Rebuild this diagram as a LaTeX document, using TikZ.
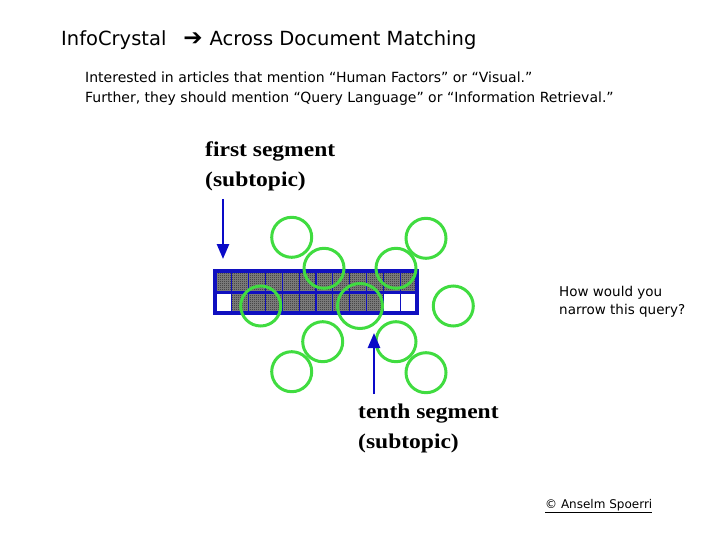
\documentclass[tikz,border=0pt]{standalone}
\usepackage{fontspec}
\usepackage{graphicx}
\setmainfont{DejaVu Sans}
\newfontfamily\segfont[FakeStretch=1.12]{Liberation Serif}
\usetikzlibrary{arrows.meta,positioning,patterns}
\definecolor{GridBlue}{HTML}{1010C0}
\definecolor{ArrowBlue}{HTML}{0A0AC8}
\definecolor{RingGreen}{HTML}{40DC40}

% fine black/white checker for the filled cells
\pgfdeclarepatternformonly{finecheck}{\pgfqpoint{0pt}{0pt}}{\pgfqpoint{2pt}{2pt}}{\pgfqpoint{2pt}{2pt}}{%
  \pgfpathrectangle{\pgfqpoint{0pt}{0pt}}{\pgfqpoint{1pt}{1pt}}%
  \pgfpathrectangle{\pgfqpoint{1pt}{1pt}}{\pgfqpoint{1pt}{1pt}}%
  \pgfusepath{fill}}

\begin{document}
\begin{tikzpicture}[
      x=1pt,y=-1pt,
      txt/.style={anchor=base west,inner sep=0pt},
      seglabel/.style={txt,font=\segfont\bfseries\fontsize{21}{30}\selectfont},
      ring/.style={circle,draw=RingGreen,line width=3pt,minimum size=40pt,inner sep=0pt},
      cellfill/.style={fill=black!48,postaction={pattern=finecheck,pattern color=black!85}},
      gridline/.style={GridBlue,line width=1.3pt},
      segarrow/.style={-{Triangle[length=15pt,width=12pt]},line width=2.6pt,ArrowBlue},
    ]
    \useasboundingbox (0,0) rectangle (720,540);

    \node[txt,font=\fontsize{19.5}{23}\selectfont] (title) at (61,46)
      {InfoCrystal\hspace{17pt}\scalebox{1.18}{\bfseries ➔}\hspace{7pt}Across Document Matching};
    \node[txt,font=\fontsize{14}{19}\selectfont] (query1) at (85,83)
      {Interested in articles that mention “Human Factors” or “Visual.”};
    \node[txt,font=\fontsize{14}{19}\selectfont] (query2) at (85,102.5)
      {Further, they should mention “Query Language” or “Information Retrieval.”};

    \node[seglabel] (firstseg) at (205,157) {first segment};
    \node[seglabel] (firstsub) at (205,187) {(subtopic)};
    \node[seglabel] (tenthseg) at (358,418) {tenth segment};
    \node[seglabel] (tenthsub) at (358,448) {(subtopic)};

    % segment bar: 12 columns, two rows
    \fill[cellfill] (215,271) rectangle (417,292);
    \fill[cellfill] (215+202/12,292) rectangle (215+10*202/12,313);
    \foreach \c in {1,...,11}
      \draw[gridline] ({215+\c*202/12},271) -- ({215+\c*202/12},313);
    \draw[GridBlue,line width=3pt] (215,292) -- (417,292);
    \node[draw=GridBlue,line width=3.2pt,minimum width=202pt,minimum height=42pt,inner sep=0pt] (bar) at (316,292) {};

    \foreach \x/\y [count=\i] in {291.7/237.3,324/268.3,396/268.3,426/238.3,453.3/306,
                                  260.7/306,322.7/341.7,396/341.7,291.7/371.7,426/372.7}
      \node[ring] (ring\i) at (\x,\y) {};
    \node[ring,minimum size=45pt] (ringmid) at (360,306) {};

    \coordinate (firsttail) at (223,199);
    \coordinate (firsthead) at (223,259);
    \coordinate (tenthtail) at (374,394);
    \coordinate (tenthhead) at (374,333);
    \draw[segarrow] (firsttail) -- (firsthead);
    \draw[segarrow] (tenthtail) -- (tenthhead);

    \node[txt,font=\fontsize{13.5}{18}\selectfont] (ask1) at (559,296) {How would you};
    \node[txt,font=\fontsize{13.5}{18}\selectfont] (ask2) at (559,314) {narrow this query?};
    \node[txt,font=\fontsize{12}{14}\selectfont] (copy) at (545,508) {\underline{© Anselm Spoerri}};
  \end{tikzpicture}
\end{document}
